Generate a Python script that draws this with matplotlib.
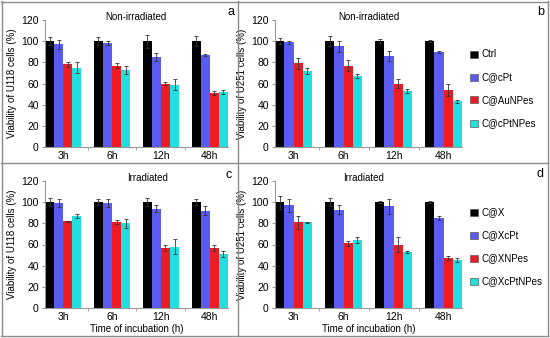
import numpy as np
import matplotlib.pyplot as plt
from matplotlib.lines import Line2D

plt.rcParams["font.family"] = ["Liberation Sans", "DejaVu Sans"]

times = ["3h", "6h", "12h", "48h"]
colors = ["#000000", "#5b5bf2", "#ed1c24", "#22dede"]

labels_top = ["Ctrl", "C@cPt", "C@AuNPes", "C@cPtNPes"]
labels_bot = ["C@X", "C@XcPt", "C@XNPes", "C@XcPtNPes"]

# panel a - U118, non-irradiated
a_vals = [[100, 100, 100, 100], [97, 98, 85, 87], [78, 77, 60, 51], [75, 73, 59, 52]]
a_errs = [[4, 4, 6, 5], [4, 2, 4, 1], [2, 2, 1, 2], [5, 4, 5, 2]]
# panel b - U251, non-irradiated
b_vals = [[100, 100, 100, 100], [99, 95, 86, 90], [79, 77, 60, 54], [72, 67, 53, 43]]
b_errs = [[3, 5, 2, 1], [1.5, 5, 5, 1], [5, 5, 4, 6], [3, 2, 2, 1]]
# panel c - U118, irradiated
c_vals = [[100, 100, 100, 100], [99, 99, 94, 92], [82, 81, 57, 57], [87, 80, 58, 51]]
c_errs = [[4, 3, 4, 3], [4, 4, 3, 4], [0.5, 2, 3, 3], [2, 4, 7, 3]]
# panel d - U251, irradiated
d_vals = [[100, 100, 100, 100], [97, 93, 96, 85], [81, 61, 60, 47], [81, 64, 53, 45]]
d_errs = [[6, 4, 1, 1], [6, 4, 7, 2], [6, 2, 7, 2], [0.5, 3, 1, 2]]

W, H = 550, 338
fig = plt.figure(figsize=(5.5, 3.38), dpi=100)


def px(x, y):
    return x / W, 1 - y / H


def panel(left, right, zero_y, top_y, vals, errs, ylabel, title, title_x,
          letter, letter_xy, legend_labels=None, legend_y=None, xlabel=None):
    ax = fig.add_axes([left / W, 1 - zero_y / H, (right - left) / W, (zero_y - top_y) / H])
    x = np.arange(len(times))
    bw = 0.185
    for i in range(4):
        ax.bar(x + (i - 1.5) * bw, vals[i], bw, color=colors[i], label=None,
               yerr=errs[i], capsize=1.5,
               error_kw=dict(elinewidth=0.6, capthick=0.6, ecolor="#333333"))
    ax.set_xlim(-0.37, 3.37)
    ax.set_ylim(0, 120)
    ax.set_yticks(range(0, 121, 20))
    ax.set_xticks(x)
    ax.set_xticklabels(times, fontsize=7.5)
    ax.set_xticks([0.5, 1.5, 2.5], minor=True)
    ax.tick_params(axis="x", which="major", length=0, pad=3)
    ax.tick_params(axis="x", which="minor", length=2.5, color="#999999")
    ax.tick_params(axis="y", labelsize=7.5, length=2.5, color="#999999", pad=2)
    for s in ["top", "right"]:
        ax.spines[s].set_visible(False)
    for s in ["left", "bottom"]:
        ax.spines[s].set_color("#999999")
        ax.spines[s].set_linewidth(0.8)
    ax.set_ylabel(ylabel, fontsize=7, labelpad=3)
    if xlabel:
        ax.set_xlabel(xlabel, fontsize=7, labelpad=1)
    fig.text(*px(title_x, top_y - 3), title, fontsize=7, ha="center", va="center")
    fig.text(*px(*letter_xy), letter, fontsize=9, ha="center", va="center")
    if legend_labels:
        for i, lab in enumerate(legend_labels):
            yy = legend_y + i * 23
            fig.add_artist(plt.Rectangle(px(470, yy + 3.5), 8 / W, 7 / H,
                                         facecolor=colors[i], edgecolor="#444444",
                                         linewidth=0.4, transform=fig.transFigure))
            fig.text(*px(481, yy), lab, fontsize=7, ha="left", va="center")
    return ax


panel(45, 228, 147, 20, a_vals, a_errs, "Viability of U118 cells (%)",
      "Non-irradiated", 136, "a", (231, 12))
panel(275, 462, 147, 20, b_vals, b_errs, "Viability of U251 cells (%)",
      "Non-irradiated", 369, "b", (541, 12), labels_top, 54)
panel(45, 228, 308, 181, c_vals, c_errs, "Viability of U118 cells (%)",
      "Irradiated", 148, "c", (229, 175), xlabel="Time of incubation (h)")
panel(275, 462, 308, 181, d_vals, d_errs, "Viability of U251 cells (%)",
      "Irradiated", 364, "d", (540, 174), labels_bot, 212,
      xlabel="Time of incubation (h)")

# panel borders
border = "#8c8c8c"
for xs, ys in [((1, 548), (1.5, 1.5)), ((1, 548), (336, 336)), ((1.5, 1.5), (1, 336)),
               ((548, 548), (1, 336)), ((238, 238), (1, 336)), ((1, 548), (163, 163))]:
    fig.add_artist(Line2D([xs[0] / W, xs[1] / W], [1 - ys[0] / H, 1 - ys[1] / H],
                          color=border, linewidth=1.0, transform=fig.transFigure))

fig.savefig("out.png", dpi=100)
